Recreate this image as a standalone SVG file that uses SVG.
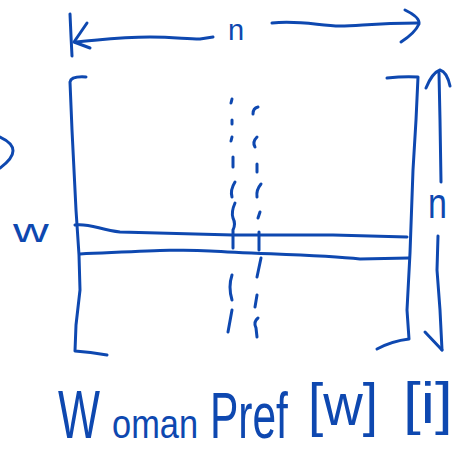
<svg xmlns="http://www.w3.org/2000/svg" width="457" height="456" viewBox="0 0 457 456">
<style>
.s{fill:none;stroke:#0e48b0;stroke-width:3;stroke-linecap:round;stroke-linejoin:round}
.t{fill:#0e48b0;font-family:"Liberation Sans",Arial,sans-serif}
</style>
<rect width="457" height="456" fill="#ffffff"/>
<g id="width-arrow">
<path class="s" d="M70,14 L71,36 L72,56"/>
<path class="s" d="M87,23 L74,42 L90,48"/>
<path class="s" d="M75,42 C100,40 120,37 150,37 C175,37 185,39 200,39 L213,37"/>
<path class="s" d="M272,23 C300,20 320,26 340,26 C360,26 372,23 418,23"/>
<path class="s" d="M405,10 Q420,17 419,24 Q415,33 401,42"/>
<text class="t" x="228" y="40" font-size="29">n</text>
</g>
<g id="height-arrow">
<path class="s" d="M426,88 Q432,73 440,70 Q447,72 450,86"/>
<path class="s" d="M439,73 L440,120 L441,182"/>
<path class="s" d="M438,236 L437,270 L440,310 L442,350"/>
<path class="s" d="M425,332 L442,350"/>
<text class="t" transform="translate(428,218) scale(0.81,1)" font-size="42">n</text>
</g>
<g id="left-mark">
<path class="s" d="M0,137 Q26,149 0,168"/>
<text class="t" transform="translate(13,242) scale(1.5,1)" font-size="33">w</text>
</g>
<g id="matrix">
<path class="s" d="M86,77 Q71,76 70,82 L72,130 L76,210 L79,255 L80,290 L76,325 L75,351 Q90,352 107,355"/>
<path class="s" d="M387,78 Q405,76 418,77 L416,120 L413,170 L410,253 L407,310 L409,339 Q392,341 377,349"/>
</g>
<g id="row-w">
<path class="s" d="M75,225 C90,223 100,230 120,232 L233,235 L333,235 L407,237"/>
<path class="s" d="M80,254 C150,251 180,249 210,251 C260,254 320,255 360,259 L409,258"/>
</g>
<g id="column-dashes">
<path class="s" d="M232,99 L231,103 M232,120 L232,124 M232,137 L231,141 M233,157 L233,167 M235,182 Q230,190 232,197 M235,203 Q231,212 233,218 Q236,224 233,230 L233,248 M232,275 Q228,287 232,300 M232,310 L228,332"/>
<path class="s" d="M258,107 Q253,108 253,114 M257,137 Q252,142 255,147 M257,164 L257,172 M261,184 Q256,190 257,197 M260,212 L258,218 M259,232 L259,250 M261,258 L257,277 M257,295 L255,307 M258,318 Q253,322 256,328 L257,337"/>
</g>
<g id="label">
<text class="t" transform="translate(58,438) scale(0.654,1)" font-size="68">W</text>
<text class="t" transform="translate(112,438) scale(0.86,1)" font-size="40">oman</text>
<text class="t" transform="translate(210,438) scale(0.664,1)" font-size="64">Pref</text>
<text class="t" transform="translate(308,425) scale(0.913,1)" font-size="60">[w]</text>
<text class="t" transform="translate(403,423) scale(1.1,1)" font-size="58">[i]</text>
</g>
</svg>
